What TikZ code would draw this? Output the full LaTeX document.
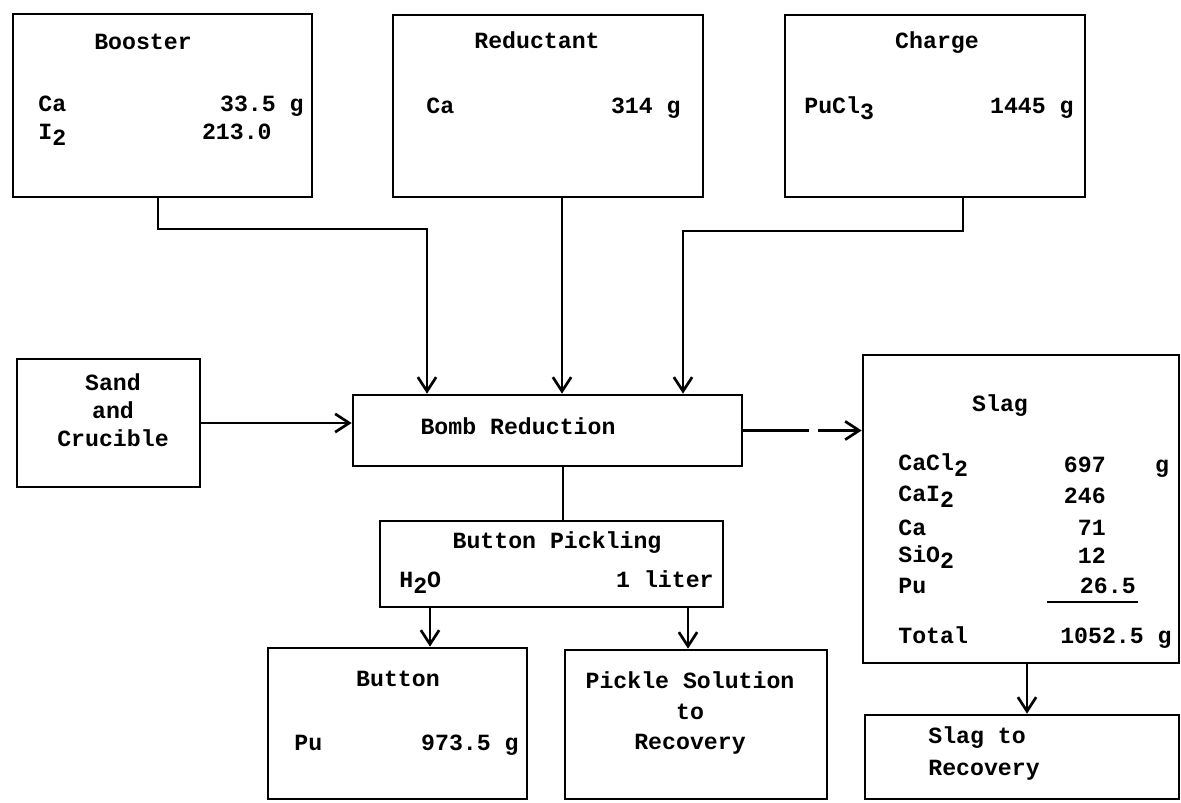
\documentclass[tikz,border=0pt]{standalone}
\usepackage{fontspec}
\setmonofont{Liberation Mono}
\usetikzlibrary{fit,arrows.meta}
\newcommand\lowtxt[1]{\raisebox{-0.55ex}{#1}}

\begin{document}
\begin{tikzpicture}[x=0.025cm,y=-0.025cm,
    font=\ttfamily\bfseries\fontsize{16.5}{20}\selectfont,
    line width=1.9pt,
    box/.style={draw, rectangle, inner sep=0pt, fit={#1}},
    flow/.style={-{Straight Barb[length=10pt,width=13pt]}},
    txt/.style={inner sep=0pt, anchor=base},
    lft/.style={inner sep=0pt, anchor=base west},
    rgt/.style={inner sep=0pt, anchor=base east}]
  \useasboundingbox (0,0) rectangle (1181,802);

  % feed boxes
  \node[box={(13,14) (312,197)}] (booster) {};
  \node[txt] (boostername) at (143,49) {Booster};
  \node[lft] (boosterca) at (37,111) {Ca};
  \node[rgt] (boostercam) at (305,111) {33.5 g};
  \node[lft] (boosteri) at (37,139) {I\lowtxt{2}};
  \node[rgt] (boosterim) at (273,139) {213.0};

  \node[box={(393,15) (703,197)}] (reductant) {};
  \node[txt] (reductantname) at (537,48) {Reductant};
  \node[lft] (reductantca) at (425,113) {Ca};
  \node[rgt] (reductantcam) at (682,113) {314 g};

  \node[box={(785,15) (1085,197)}] (charge) {};
  \node[txt] (chargename) at (937,48) {Charge};
  \node[lft] (chargepu) at (803,113) {PuCl\lowtxt{3}};
  \node[rgt] (chargepum) at (1075,113) {1445 g};

  \node[box={(17,359) (200,487)}] (sand) {};
  \node[align=center, inner sep=0pt] (sandname) at (113,410) {Sand\\and\\Crucible};

  % reduction and pickling
  \node[box={(353,395) (742,466)}] (bomb) {};
  \node[txt] (bombname) at (518,434) {Bomb Reduction};

  \node[box={(380,521) (723,607)}] (pickling) {};
  \node[txt] (picklingname) at (557,548) {Button Pickling};
  \node[lft] (picklingw) at (398,587) {H\lowtxt{2}O};
  \node[rgt] (picklingwm) at (715,587) {1 liter};

  % products
  \node[box={(268,648) (527,799)}] (button) {};
  \node[txt] (buttonname) at (398,686) {Button};
  \node[lft] (buttonpu) at (293,750) {Pu};
  \node[rgt] (buttonpum) at (520,750) {973.5 g};

  \node[box={(565,650) (827,799)}] (pickle) {};
  \node[align=center, inner sep=0pt, font=\ttfamily\bfseries\fontsize{16.5}{21.5}\selectfont]
    (picklename) at (690,713) {Pickle Solution\\to\\Recovery};

  \node[box={(863,355) (1179,663)}] (slag) {};
  \node[txt] (slagname) at (1000,411) {Slag};
  \node[lft] (slagcacl) at (897,470) {CaCl\lowtxt{2}};
  \node[lft] (slagcai) at (897,501) {CaI\lowtxt{2}};
  \node[lft] (slagca) at (897,535) {Ca};
  \node[lft] (slagsio) at (897,562) {SiO\lowtxt{2}};
  \node[lft] (slagpu) at (897,593) {Pu};
  \node[rgt] (slagcaclm) at (1107,472) {697};
  \node[rgt] (slagcaim) at (1107,503) {246};
  \node[rgt] (slagcam) at (1107,535) {71};
  \node[rgt] (slagsiom) at (1107,563) {12};
  \node[rgt] (slagpum) at (1137,593) {26.5};
  \node[txt] (slagunit) at (1162,472) {g};
  \draw (1047,602) -- (1138,602);
  \node[lft] (slagtotal) at (897,643) {Total};
  \node[rgt] (slagtotalm) at (1173,643) {1052.5 g};

  \node[box={(865,715) (1179,799)}] (slagrec) {};
  \node[lft] (slagrecname) at (927,743) {Slag to};
  \node[lft] (slagrecname2) at (927,775) {Recovery};

  % connectors
  \draw[flow] (booster.south -| 158,0) |- (427,229) -- (bomb.north -| 427,0);
  \draw[flow] (reductant.south -| 562,0) -- (bomb.north -| 562,0);
  \draw[flow] (charge.south -| 963,0) |- (683,231) -- (bomb.north -| 683,0);
  \draw[flow] (sand.east) -- (sand.east -| bomb.west);
  \draw[flow, dash pattern=on 47pt off 6pt] (bomb.east) -- (bomb.east -| slag.west);
  \draw (bomb.south -| 563,0) -- (pickling.north -| 563,0);
  \draw[flow] (pickling.south -| 430,0) -- (button.north -| 430,0);
  \draw[flow] (pickling.south -| 688,0) -- (pickle.north -| 688,0);
  \draw[flow] (slag.south -| 1027,0) -- (slagrec.north -| 1027,0);
\end{tikzpicture}
\end{document}
